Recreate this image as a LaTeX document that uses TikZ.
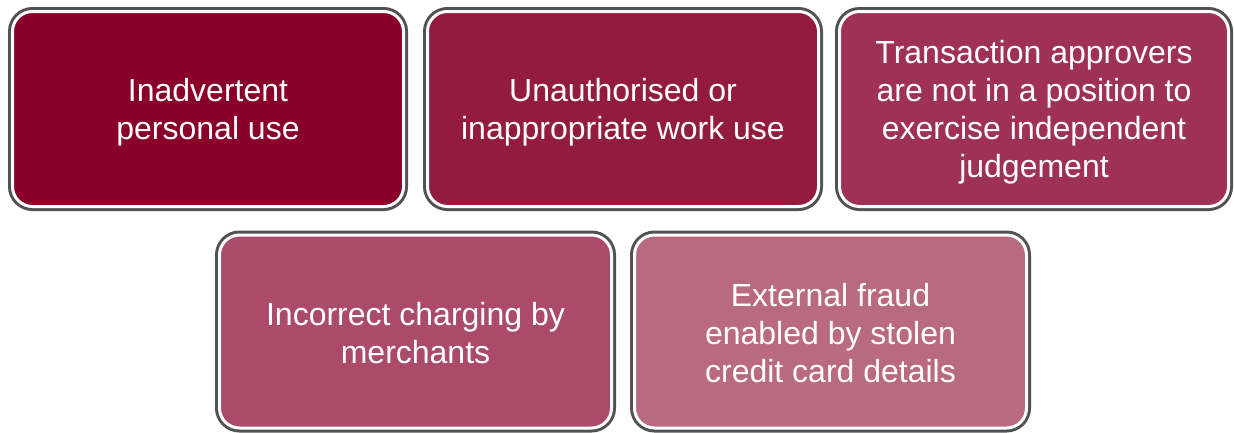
\documentclass[tikz,border=0pt]{standalone}
\usepackage{fontspec}
\setmainfont{Liberation Sans}
\begin{document}
\definecolor{rimgray}{RGB}{82,82,82}
\definecolor{tileA}{RGB}{137,0,41}
\definecolor{tileB}{RGB}{148,27,64}
\definecolor{tileC}{RGB}{160,49,86}
\definecolor{tileD}{RGB}{172,74,106}
\definecolor{tileE}{RGB}{185,106,128}
\begin{tikzpicture}[x=1pt,y=-1pt,
  tile/.style={rectangle, rounded corners=20pt, inner sep=0pt,
    draw=white, line width=3pt,
    preaction={draw=rimgray, line width=9pt}},
  toprow/.style={tile, minimum height=195pt},
  lowrow/.style={tile, minimum height=193pt},
  tiletext/.style={text=white, align=center, inner sep=0pt,
    font=\fontsize{32}{38}\selectfont}]
\useasboundingbox (0,0) rectangle (1234,432);
% upper row
\node[toprow, fill=tileA, minimum width=391pt] (b1) at (208,109) {};
\node[toprow, fill=tileB, minimum width=391pt] (b2) at (623,109) {};
\node[toprow, fill=tileC, minimum width=389pt] (b3) at (1034,109) {};
% lower row
\node[lowrow, fill=tileD, minimum width=392pt] (b4) at (415.5,331.5) {};
\node[lowrow, fill=tileE, minimum width=392pt] (b5) at (830.5,331.5) {};
% captions, set slightly below each tile's centre
\node[tiletext] (t1) at ([yshift=-3pt]b1.center) {Inadvertent\\personal use};
\node[tiletext] (t2) at ([yshift=-3pt]b2.center) {Unauthorised or\\inappropriate work use};
\node[tiletext] (t3) at ([yshift=-3pt]b3.center)
  {Transaction approvers\\are not in a position to\\exercise independent\\judgement};
\node[tiletext] (t4) at ([yshift=-2pt]b4.center) {Incorrect charging by\\merchants};
\node[tiletext] (t5) at ([yshift=-2pt]b5.center)
  {External fraud\\enabled by stolen\\credit card details};
\end{tikzpicture}
\end{document}
